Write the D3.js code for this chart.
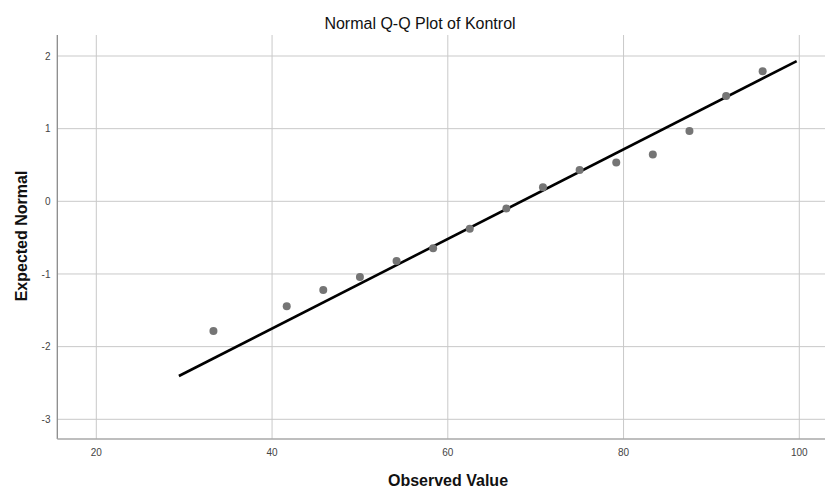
<!DOCTYPE html>
<html>
<head>
<meta charset="utf-8">
<script src="https://cdn.jsdelivr.net/npm/d3@7"></script>
<style>
  html, body { margin: 0; padding: 0; background: #fff; }
  svg { display: block; }
</style>
</head>
<body>
<svg id="chart" width="825" height="488"></svg>
<script>
// ---- data ----
const observed = [33.33, 41.67, 45.83, 50, 54.17, 58.33, 62.5, 66.67, 70.83, 75, 79.17, 83.33, 87.5, 91.67, 95.83];
const expected = [-1.785, -1.445, -1.22, -1.04, -0.82, -0.645, -0.378, -0.098, 0.195, 0.432, 0.533, 0.643, 0.967, 1.449, 1.789];
const lineMean = 68.4;
const lineSD = 16.22;
const lineRange = [29.4, 99.7];
const xTicks = [20, 40, 60, 80, 100];
const yTicks = [-3, -2, -1, 0, 1, 2];
const title = "Normal Q-Q Plot of Kontrol";
const xTitle = "Observed Value";
const yTitle = "Expected Normal";

const svg = d3.select("#chart");
const plot = { left: 57.3, right: 825, top: 35, bottom: 439 };

const x = d3.scaleLinear().domain([20, 100]).range([96.3, 799.3]);
const y = d3.scaleLinear().domain([-3, 2]).range([419.3, 56]);

const font = "Liberation Sans, Arial, sans-serif";

// gridlines
svg.append("g").selectAll("line").data(xTicks).join("line")
  .attr("x1", d => x(d)).attr("x2", d => x(d))
  .attr("y1", plot.top).attr("y2", plot.bottom)
  .attr("stroke", "#c9c9c9").attr("stroke-width", 1);
svg.append("g").selectAll("line").data(yTicks).join("line")
  .attr("x1", plot.left).attr("x2", plot.right)
  .attr("y1", d => y(d)).attr("y2", d => y(d))
  .attr("stroke", "#c9c9c9").attr("stroke-width", 1);

// axes lines
svg.append("line").attr("x1", plot.left).attr("x2", plot.left)
  .attr("y1", plot.top).attr("y2", plot.bottom)
  .attr("stroke", "#8a8a8a").attr("stroke-width", 1.3);
svg.append("line").attr("x1", plot.left).attr("x2", plot.right)
  .attr("y1", plot.bottom).attr("y2", plot.bottom)
  .attr("stroke", "#a8a8a8").attr("stroke-width", 1.3);

// tick labels
svg.append("g").selectAll("text").data(xTicks).join("text")
  .attr("x", d => x(d)).attr("y", 455.5)
  .attr("text-anchor", "middle")
  .attr("font-family", font)
  .attr("font-size", 10).attr("fill", "#444")
  .text(d => d);
svg.append("g").selectAll("text").data(yTicks).join("text")
  .attr("x", 50.5).attr("y", d => y(d) + 3.7)
  .attr("text-anchor", "end")
  .attr("font-family", font)
  .attr("font-size", 10).attr("fill", "#444")
  .text(d => d);

// reference line
const lineData = lineRange.map(v => [v, (v - lineMean) / lineSD]);
svg.append("path")
  .datum(lineData)
  .attr("d", d3.line().x(d => x(d[0])).y(d => y(d[1])))
  .attr("stroke", "#000").attr("stroke-width", 2.6).attr("fill", "none");

// points
svg.append("g").selectAll("circle").data(observed).join("circle")
  .attr("cx", d => x(d)).attr("cy", (d, i) => y(expected[i]))
  .attr("r", 4).attr("fill", "#757575");

// titles
svg.append("text").attr("x", 420).attr("y", 28.5)
  .attr("text-anchor", "middle")
  .attr("font-family", font)
  .attr("font-size", 16).attr("fill", "#111")
  .text(title);
svg.append("text").attr("x", 448).attr("y", 486)
  .attr("text-anchor", "middle")
  .attr("font-family", font)
  .attr("font-size", 16).attr("font-weight", "bold").attr("fill", "#111")
  .text(xTitle);
svg.append("text")
  .attr("transform", "translate(26.5,236) rotate(-90)")
  .attr("text-anchor", "middle")
  .attr("font-family", font)
  .attr("font-size", 16).attr("font-weight", "bold").attr("fill", "#111")
  .text(yTitle);
</script>
</body>
</html>
